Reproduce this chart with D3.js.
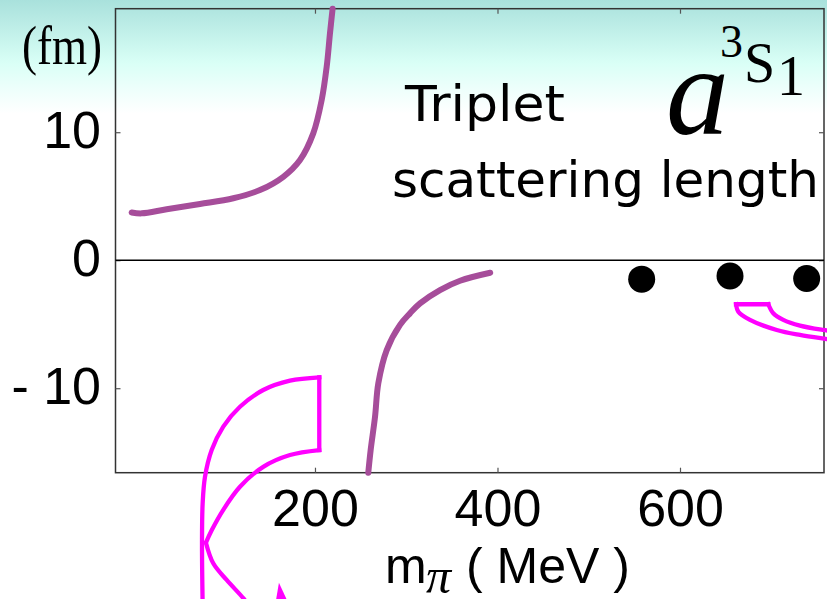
<!DOCTYPE html>
<html>
<head>
<meta charset="utf-8">
<script src="https://cdn.jsdelivr.net/npm/d3@7/dist/d3.min.js"></script>
<style>
  html, body { margin: 0; padding: 0; background: #fff; }
  svg { display: block; }
</style>
</head>
<body>
<svg id="chart" width="827" height="599"></svg>
<script>
// ---- data (m_pi in MeV, a in fm) ----
const xTicks = [200, 400, 600];
const yTicks = [-10, 0, 10];

// upper branch of the theory curve
const curveUpperX = [-0.9, 10.1, 37.5, 74, 110.5, 139.7, 165.3, 183.6, 198.1, 207.3, 212.8, 216.4, 219.3];
const curveUpperY = [3.73, 3.66, 3.98, 4.39, 4.84, 5.48, 6.52, 7.83, 9.91, 12.5, 15.1, 17.7, 19.65];

// lower branch of the theory curve
const curveLowerX = [258.4, 261, 265.8, 269.4, 278.6, 293.2, 304.1, 315.1, 337, 359, 392];
const curveLowerY = [-16.6, -14.83, -12.23, -9.62, -7.02, -5.05, -4.15, -3.37, -2.33, -1.6, -0.98];

// lattice points
const dotX = [558, 654.8, 738.8];
const dotY = [-1.48, -1.23, -1.43];

// band 1 (left, magenta outline)
const band1OuterX = [76.9, 76.2, 76.9, 79.5, 86.8, 99.5, 117.8, 143.3, 172.6, 204.7];
const band1OuterY = [-26.9, -22.1, -18.99, -16.91, -14.83, -13.0, -11.45, -10.14, -9.41, -9.15];
const band1EdgeX = [204.7, 204.7];
const band1EdgeY = [-9.15, -14.83];
const band1InnerAX = [204.7, 172.6, 143.3, 117.8, 99.5, 86.8, 80.5];
const band1InnerAY = [-14.83, -15.22, -16.14, -17.7, -19.5, -21.1, -22.07];
const band1InnerBX = [80.5, 88.5, 103.2, 121.4, 126.6];
const band1InnerBY = [-22.07, -23.68, -24.98, -26.4, -26.9];
const band1TipX = [160.5, 157.3, 169.3];
const band1TipY = [-25.2, -26.55, -26.55];

// band 2 (right, magenta outline)
const band2TopX = [661.4, 696.8];
const band2TopY = [-3.44, -3.44];
const band2InnerX = [696.8, 702.2, 713.2, 731.5, 757, 764.4];
const band2InnerY = [-3.44, -4.14, -4.66, -5.11, -5.45, -5.52];
const band2OuterX = [661.4, 663.9, 676.7, 706, 731.5, 759.7, 764.4];
const band2OuterY = [-3.44, -4.02, -4.66, -5.45, -5.84, -6.15, -6.2];

// ---- layout ----
const svg = d3.select("#chart");
const L = 115.5, R = 824, T = 8.7, B = 472.7;

const x = d3.scaleLinear().domain([-18.6, 757.8]).range([L, R]);
const y = d3.scaleLinear().domain([-16.6, 19.65]).range([B, T]);

// background gradient
const defs = svg.append("defs");
const grad = defs.append("linearGradient").attr("id", "bg")
  .attr("x1", 0).attr("y1", 0).attr("x2", 0).attr("y2", 1);
grad.append("stop").attr("offset", 0).attr("stop-color", "#a9e1dc");
grad.append("stop").attr("offset", 0.105).attr("stop-color", "#d9fff6");
grad.append("stop").attr("offset", 0.145).attr("stop-color", "#ecfffb");
grad.append("stop").attr("offset", 0.19).attr("stop-color", "#ffffff");
grad.append("stop").attr("offset", 1).attr("stop-color", "#ffffff");
svg.append("rect").attr("width", 827).attr("height", 599).attr("fill", "url(#bg)");

// frame
svg.append("rect").attr("x", L).attr("y", T).attr("width", R - L).attr("height", B - T)
  .attr("fill", "none").attr("stroke", "#333").attr("stroke-width", 1.5);

// axes
const fmt = d => d < 0 ? "- " + Math.abs(d) : String(d);
const gx = svg.append("g").attr("transform", `translate(0,${B})`)
  .call(d3.axisBottom(x).tickValues(xTicks).tickSize(-5).tickPadding(16.4).tickFormat(fmt));
const gy = svg.append("g").attr("transform", `translate(${L},0)`)
  .call(d3.axisLeft(y).tickValues(yTicks).tickSize(-5).tickPadding(14.5).tickFormat(fmt));
svg.append("g").attr("transform", `translate(0,${T})`)
  .call(d3.axisTop(x).tickValues(xTicks).tickSize(-5).tickFormat(""));
svg.append("g").attr("transform", `translate(${R},0)`)
  .call(d3.axisRight(y).tickValues(yTicks).tickSize(-5).tickFormat(""));
svg.selectAll(".domain").remove();
svg.selectAll(".tick line").attr("stroke", "#555").attr("stroke-width", 1.2);
[gx, gy].forEach(g => g.selectAll("text")
  .attr("font-family", "'Liberation Sans', Arial, sans-serif")
  .attr("font-size", 52).attr("fill", "#000"));
gy.selectAll("text").attr("dy", "0.29em");

// zero line
svg.append("line").attr("x1", L).attr("x2", R).attr("y1", y(0)).attr("y2", y(0))
  .attr("stroke", "#000").attr("stroke-width", 1.5);

// helpers
const zip = (xs, ys) => xs.map((v, i) => [v, ys[i]]);
const smooth = d3.line().x(d => x(d[0])).y(d => y(d[1])).curve(d3.curveCatmullRom.alpha(0.5));
const straight = d3.line().x(d => x(d[0])).y(d => y(d[1]));

// theory curve
[zip(curveUpperX, curveUpperY), zip(curveLowerX, curveLowerY)].forEach(pts => {
  svg.append("path").attr("d", smooth(pts)).attr("fill", "none")
    .attr("stroke", "#a64d9a").attr("stroke-width", 6).attr("stroke-linecap", "round");
});

// lattice dots
svg.selectAll("circle.dot").data(zip(dotX, dotY)).enter().append("circle")
  .attr("class", "dot").attr("cx", d => x(d[0])).attr("cy", d => y(d[1]))
  .attr("r", 13.5).attr("fill", "#000");

// magenta bands
const mag = "#ff00ff";
[
  [smooth, zip(band1OuterX, band1OuterY)],
  [straight, zip(band1EdgeX, band1EdgeY)],
  [smooth, zip(band1InnerAX, band1InnerAY)],
  [smooth, zip(band1InnerBX, band1InnerBY)],
  [straight, zip(band2TopX, band2TopY)],
  [smooth, zip(band2InnerX, band2InnerY)],
  [smooth, zip(band2OuterX, band2OuterY)]
].forEach(([gen, pts]) => {
  svg.append("path").attr("d", gen(pts)).attr("fill", "none")
    .attr("stroke", mag).attr("stroke-width", 4.3).attr("stroke-linejoin", "miter").attr("stroke-linecap", "square");
});
svg.append("path").attr("d", straight(zip(band1TipX, band1TipY)) + "Z").attr("fill", mag);

// texts
svg.append("text").attr("x", 22).attr("y", 64).text("(fm)")
  .attr("font-family", "'Liberation Serif', 'Times New Roman', serif").attr("font-size", 54)
  .attr("textLength", 80).attr("lengthAdjust", "spacingAndGlyphs");

const comic = "'Comic Sans MS', 'DejaVu Sans', sans-serif";
svg.append("text").attr("x", 405).attr("y", 121).text("Triplet")
  .attr("font-family", comic).attr("font-size", 50)
  .attr("textLength", 160).attr("lengthAdjust", "spacingAndGlyphs");
svg.append("text").attr("x", 392).attr("y", 197).text("scattering length")
  .attr("font-family", comic).attr("font-size", 50)
  .attr("textLength", 427).attr("lengthAdjust", "spacingAndGlyphs");

const serif = "'Liberation Serif', 'Times New Roman', serif";
svg.append("text").attr("x", 666).attr("y", 134).text("a")
  .attr("font-family", serif).attr("font-style", "italic").attr("font-size", 126);
svg.append("text").attr("x", 720).attr("y", 57).text("3")
  .attr("font-family", serif).attr("font-size", 46);
svg.append("text").attr("x", 744).attr("y", 82).text("S")
  .attr("font-family", serif).attr("font-size", 56);
svg.append("text").attr("x", 777).attr("y", 95).text("1")
  .attr("font-family", serif).attr("font-size", 56);

const sans = "'Liberation Sans', Arial, sans-serif";
svg.append("text").attr("x", 385).attr("y", 583).text("m")
  .attr("font-family", sans).attr("font-size", 50);
svg.append("text").attr("x", 426).attr("y", 593).text("π")
  .attr("font-family", serif).attr("font-style", "italic").attr("font-size", 50);
svg.append("text").attr("x", 466).attr("y", 583).text("( MeV )")
  .attr("font-family", sans).attr("font-size", 50);
</script>
</body>
</html>
